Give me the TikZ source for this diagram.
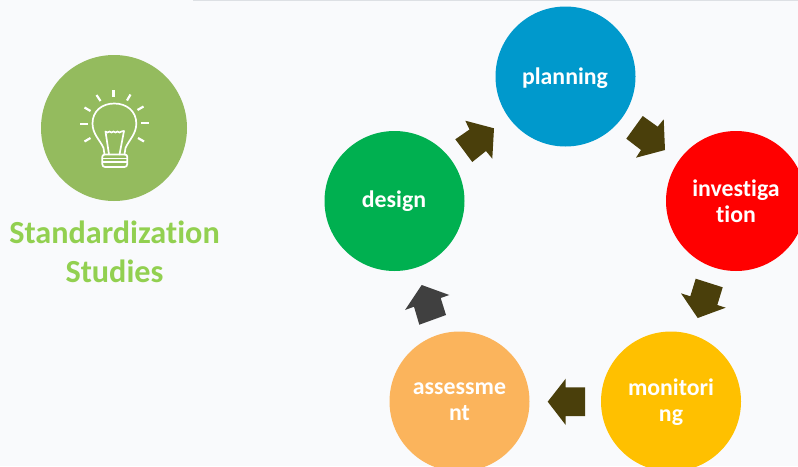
\documentclass[tikz,border=0pt]{standalone}
\usepackage{fontspec}
\setmainfont[Ligatures=NoCommon]{Carlito}
\definecolor{bgc}{HTML}{F9FAFC}
\definecolor{topc}{HTML}{DDE0E4}
\definecolor{cblue}{HTML}{0099CC}
\definecolor{cred}{HTML}{FF0000}
\definecolor{cyel}{HTML}{FFC000}
\definecolor{cora}{HTML}{FBB45C}
\definecolor{cgrn}{HTML}{00B050}
\definecolor{cicon}{HTML}{94BB5E}
\definecolor{ctitle}{HTML}{92D050}
\definecolor{colive}{HTML}{4A3F0B}
\definecolor{cdark}{HTML}{404040}
\tikzset{
  stage/.style={circle,minimum size=140pt,inner sep=0pt},
  stagetext/.style={text=white,align=center,inner sep=0pt,
    font=\fontsize{23.8}{26}\selectfont\bfseries},
  blockarrow/.style={fill=colive,draw=none},
  iconline/.style={draw=white,line width=1.7pt,line join=round,line cap=round},
  rayline/.style={draw=white,line width=2.2pt}
}
\begin{document}
\begin{tikzpicture}[x=1pt,y=-1pt]
\useasboundingbox (0,0) rectangle (798,466);
\fill[bgc] (0,0) rectangle (798,466);
\fill[topc] (193,0) rectangle (798,1);
\begin{scope}
\clip (0,0) rectangle (798,466);
\node[stage,fill=cblue] (planning) at (565.5,76.5) {};
\node[stage,fill=cred] (investigation) at (736,201) {};
\node[stage,fill=cyel] (monitoring) at (671,401.5) {};
\node[stage,fill=cora] (assessment) at (459.5,401.5) {};
\node[stage,fill=cgrn] (design) at (394.5,201) {};
\node[stagetext] (t1) at (565,78) {planning};
\node[stagetext] (t2) at (736,201) {investiga\\tion};
\node[stagetext] (t3) at (671,402) {monitori\\ng};
\node[stagetext] (t4) at (459.5,402) {assessme\\nt};
\node[stagetext] (t5) at (394,201.5) {design};
\end{scope}
% block arrows
\fill[blockarrow] (494,128.3) -- (465.3,120.7) -- (469.5,129.5) -- (455.3,139.3) -- (472.3,162) -- (486,151) -- (492.3,158.7) -- cycle;
\fill[blockarrow] (642.7,116) -- (657.7,126.7) -- (663.7,119.3) -- (665,150) -- (636,157.7) -- (641,150) -- (626.3,138.7) -- cycle;
\fill[blockarrow] (695.7,278.7) -- (722.7,287.3) -- (717.3,305) -- (725.7,307.7) -- (697.7,318) -- (681,293.3) -- (690.3,296.3) -- cycle;
\fill[blockarrow] (585,387.3) -- (565.7,387.3) -- (565.7,378.7) -- (547.7,401.7) -- (565.7,425) -- (565.7,416) -- (585,416) -- cycle;
\fill[blockarrow,fill=cdark] (421.7,285) -- (449.3,295) -- (440.7,298) -- (446,315) -- (419.3,324.7) -- (414,306.7) -- (405,310) -- cycle;
% icon
\node[circle,fill=cicon,minimum size=146pt,inner sep=0pt] (icon) at (114,128) {};
\draw[iconline] (104.5,154.5) -- (103.5,148) .. controls (100,140) and (92.5,134) .. (92.5,123.5)
  .. controls (92.5,111) and (102,103.5) .. (114.3,103.5)
  .. controls (126.5,103.5) and (136.3,111) .. (136.3,123.5)
  .. controls (136.3,134) and (129,140) .. (125.5,148) -- (124.5,154.5);
\draw[iconline] (109,154.5) -- (105.5,131.5) -- (107.5,132.5) -- (109.5,131.5) -- (111.5,132.5) -- (113.5,131.5) -- (115.5,132.5) -- (117.5,131.5) -- (119.5,132.5) -- (121.5,131.5) -- (124,131) -- (119.5,154.5);
\draw[iconline] (102.5,158.5) -- (127,158.5);
\draw[iconline] (102.5,162) -- (127,162);
\draw[iconline] (105,154.5) .. controls (103,154.5) and (102.3,155.5) .. (102.3,157) -- (102.3,164) .. controls (102.3,166) and (103.5,167) .. (105,167) -- (124.5,167) .. controls (126,167) and (127.3,166) .. (127.3,164) -- (127.3,157) .. controls (127.3,155.5) and (126.5,154.5) .. (124.5,154.5) -- cycle;
\draw[rayline] (113.5,90) -- (113.5,97);
\draw[rayline] (96.5,95) -- (100.5,101);
\draw[rayline] (130.5,94.5) -- (127,100.5);
\draw[rayline] (84.5,107.5) -- (90.5,111);
\draw[rayline] (143.5,106.5) -- (137.5,110);
\draw[rayline] (80,124) -- (88,124);
\draw[rayline] (141,123.3) -- (149,123.3);
\draw[rayline] (84.5,141.5) -- (90.5,138);
\draw[rayline] (144,141.5) -- (138,138);
% title
\node[text=ctitle,align=center,inner sep=0pt,font=\fontsize{32.2}{39}\selectfont\bfseries] (title) at (114.5,252) {Standardization\\Studies};
\end{tikzpicture}
\end{document}
